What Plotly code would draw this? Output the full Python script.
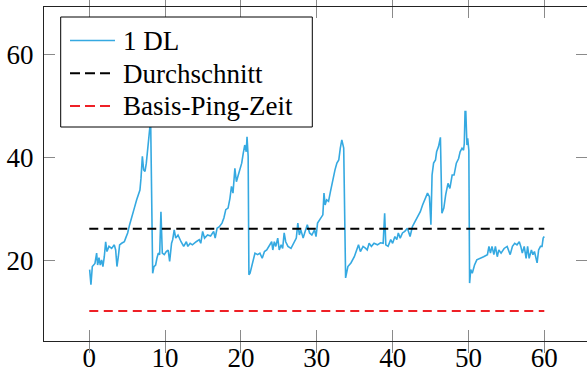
import plotly.graph_objects as go

# Time (s) and ping values
t = [0.05, 0.22, 0.4, 0.75, 0.97, 1.1, 1.28, 1.45, 1.63, 1.8, 1.98, 2.16, 2.33, 2.6, 2.95,
     3.3, 3.48, 3.65, 3.83, 4.0, 4.27, 4.62, 4.8, 5.06, 5.32, 5.59, 5.94, 6.25, 6.46, 6.68,
     6.82, 7.0, 7.17, 7.35, 7.52, 7.7, 7.87, 8.0, 8.09,
     8.36, 8.53, 8.75, 8.92, 9.1, 9.28, 9.45, 9.63, 9.89, 10.15, 10.4, 10.6, 10.85, 11.0,
     11.2, 11.4,
     11.7, 12.1, 12.45, 12.8, 13.0, 13.3, 13.6, 14.1, 14.5, 14.7, 14.95, 15.2, 15.6, 16.0,
     16.4, 16.6, 16.85, 17.15, 17.5, 17.75, 18.0, 18.3, 18.55, 18.75, 18.95, 19.2, 19.4,
     19.65, 19.87, 20.1, 20.3, 20.5, 20.7, 20.8, 20.95, 21.05, 21.2, 21.5, 21.85, 22.2,
     22.5, 22.8, 23.1, 23.4, 23.7,
     24.05, 24.2, 24.4, 24.6, 24.85, 25.05, 25.3, 25.5, 25.7, 25.9, 26.2, 26.6, 26.9, 27.3,
     27.5, 27.7, 27.9, 28.2, 28.4, 28.75, 29.05, 29.35, 29.7, 29.9, 30.1, 30.5, 30.8,
     30.95, 31.1, 31.3, 31.55, 31.8, 32.1, 32.4, 32.65, 32.9, 33.1, 33.3, 33.55, 33.75,
     33.8, 34.1, 34.5, 34.95, 35.3, 35.5, 35.75, 36.1,
     36.45, 36.65, 36.9, 37.2, 37.55, 38.0, 38.4, 38.75, 38.95, 39.1, 39.4, 39.75, 40.0,
     40.3, 40.55, 40.75, 41.0, 41.3, 41.6, 41.95, 42.3, 42.6, 42.95, 43.3, 43.65, 43.95,
     44.3, 44.6, 44.85, 45.05, 45.2, 45.4, 45.65, 45.8, 46.05, 46.2, 46.3, 46.5, 46.75,
     47.0, 47.3, 47.55, 47.85, 48.1, 48.4,
     48.7, 48.9, 49.15, 49.35, 49.45, 49.55, 49.65, 49.8, 49.9, 50.05, 50.15, 50.3, 50.5,
     50.8, 51.1, 51.6, 52.0, 52.5, 52.7, 52.9, 53.1, 53.35, 53.55, 53.8, 54.0, 54.3, 54.7,
     55.1, 55.5, 55.8, 56.1, 56.4, 56.7, 56.9, 57.1, 57.35, 57.6, 57.8, 58.0, 58.3, 58.5,
     58.7, 58.9, 59.05, 59.25, 59.5, 59.7, 59.85, 60.0]

ping = [18.3, 15.4, 18.9, 19.5, 21.5, 19.2, 20.6, 19.2, 20.2, 18.9, 20.8, 23.7, 21.8, 22.8, 22.4,
        23.1, 22.1, 18.9, 20.8, 23.1, 23.4, 23.7, 24.4, 25.4, 27.0, 28.6, 30.2, 31.8, 32.8, 33.7,
        36.0, 40.2, 37.6, 37.3, 38.9, 41.1, 43.4, 46.0, 47.5,
        17.6, 18.9, 19.2, 20.5, 21.5, 21.2, 29.5, 21.5, 21.2, 21.8, 22.1, 19.9, 23.4, 24.1,
        26.0, 24.4,
        25.0, 23.7, 22.8, 23.7, 22.8, 23.4, 23.1, 23.7, 24.1, 23.4, 25.7, 24.4, 25.0, 24.8,
        25.7, 24.4, 26.3, 26.6, 27.3, 28.3, 29.9, 30.2, 32.1, 34.4, 33.1, 37.9, 35.3,
        36.6, 37.6, 38.9, 40.8, 42.4, 41.1, 44.0, 40.2, 17.3, 17.6, 19.6, 21.5, 21.2,
        21.5, 20.5, 21.8, 22.1, 22.9,
        23.7, 22.1, 23.7, 22.8, 24.4, 22.1, 23.1, 22.4, 25.4, 23.7, 22.8, 22.4, 23.4, 24.4,
        27.3, 25.0, 26.0, 24.4, 25.4, 27.0, 25.4, 25.0, 26.0, 24.7, 27.3, 28.3, 28.9,
        33.1, 30.8, 31.8, 31.5, 33.4, 35.7, 37.6, 38.9, 39.5, 41.8, 43.4, 41.8, 18.3,
        16.7, 18.9, 19.6, 20.8, 22.1, 23.1, 21.8, 22.8,
        22.4, 22.1, 23.4, 22.8, 23.4, 23.1, 23.5, 23.4, 29.2, 23.1, 22.8, 24.1, 23.4,
        24.7, 24.1, 25.4, 24.4, 25.4, 25.7, 26.3, 24.7, 26.6, 27.6, 28.6, 29.5, 30.8,
        32.1, 33.1, 32.4, 27.0, 36.6, 38.9, 39.5, 41.1, 42.1, 43.4, 43.9, 29.2, 30.2,
        32.8, 35.0, 34.0, 36.6, 36.6, 38.9,
        39.8, 41.1, 41.8, 41.4, 42.7, 48.9, 48.9, 42.4, 43.7, 41.4, 15.7, 18.3, 17.6,
        19.2, 20.2, 20.5, 20.8, 21.2, 22.8, 21.5, 22.8, 21.2, 22.8, 20.8, 22.1, 21.5, 22.4,
        22.8, 21.2, 22.8, 23.4, 23.1, 23.7, 22.8, 21.5, 22.8, 20.5, 22.8, 20.5, 22.1, 21.2,
        21.8, 20.8, 19.6, 22.1, 22.8, 22.8, 24.4, 24.7]

t_range = [0, 60]
mean_value = 26.2
base_ping = 10.3

series_names = ["1 DL", "Durchschnitt", "Basis-Ping-Zeit"]
series_colors = ["#35a9e1", "black", "#ee2026"]
series_dash = ["solid", "9px,5.5px", "9px,5.5px"]

x_ticks = [0, 10, 20, 30, 40, 50, 60]
y_ticks = [20, 40, 60]

serif = "Liberation Serif"
y_range = [4.5, 69.1]
x_range = [-5.97, 65.63]

W, H = 587, 372
ML, MR, MT, MB = 44, 0, 7, 31
PW, PH = W - ML - MR, H - MT - MB


def px2paper_x(px):
    return (px - ML) / PW


def px2paper_y(py):
    return 1 - (py - MT) / PH


fig = go.Figure()
fig.add_trace(go.Scatter(x=t, y=ping, mode="lines", name=series_names[0],
                         line=dict(color=series_colors[0], width=1.6)))
fig.add_trace(go.Scatter(x=t_range, y=[mean_value, mean_value], mode="lines",
                         name=series_names[1],
                         line=dict(color=series_colors[1], width=2, dash=series_dash[1])))
fig.add_trace(go.Scatter(x=t_range, y=[base_ping, base_ping], mode="lines",
                         name=series_names[2], yaxis="y2",
                         line=dict(color=series_colors[2], width=2, dash=series_dash[2])))

# Legend box drawn like the pgfplots legend
shapes = [dict(type="rect", xref="paper", yref="paper", layer="above",
               x0=px2paper_x(60.7), x1=px2paper_x(312.3),
               y0=px2paper_y(127), y1=px2paper_y(17),
               fillcolor="white", line=dict(color="black", width=1))]
annotations = []
row_y = [40.5, 73.3, 106.0]
for i, name in enumerate(series_names):
    x_end = 115 if i == 0 else 110
    shapes.append(dict(type="line", xref="paper", yref="paper", layer="above",
                       x0=px2paper_x(70), x1=px2paper_x(x_end),
                       y0=px2paper_y(row_y[i]), y1=px2paper_y(row_y[i]),
                       line=dict(color=series_colors[i],
                                 width=1.6 if i == 0 else 2,
                                 dash="solid" if i == 0 else "10px,5px")))
    annotations.append(dict(text=name, xref="paper", yref="paper", showarrow=False,
                            x=px2paper_x(121), y=px2paper_y(row_y[i] + 0.5),
                            xanchor="left", yanchor="middle",
                            font=dict(family=serif, size=27, color="black")))

axis_common = dict(ticks="inside", ticklen=11, tickcolor="#8a8a8a", tickwidth=1,
                   showgrid=False, zeroline=False, automargin=False,
                   tickfont=dict(family=serif, size=27, color="black"))

fig.update_layout(
    width=W, height=H,
    margin=dict(l=ML, r=MR, t=MT, b=MB, autoexpand=False),
    paper_bgcolor="white", plot_bgcolor="white",
    font=dict(family=serif, size=27, color="black"),
    showlegend=False,
    shapes=shapes, annotations=annotations,
    xaxis=dict(range=x_range, tickvals=x_ticks, showline=True,
               linecolor="#222222", linewidth=1, mirror="allticks",
               ticklabelstandoff=-7, **axis_common),
    yaxis=dict(range=y_range, tickvals=y_ticks, showline=True, linecolor="#222222",
               linewidth=1, mirror=False, ticklabelstandoff=4, **axis_common),
    yaxis2=dict(range=y_range, tickvals=y_ticks, showline=False, showticklabels=False,
                overlaying="y", side="right", **axis_common),
)

fig.write_html("out.html", config={"displayModeBar": False},
               post_script="document.body.style.margin='0';document.body.style.overflow='hidden';")
